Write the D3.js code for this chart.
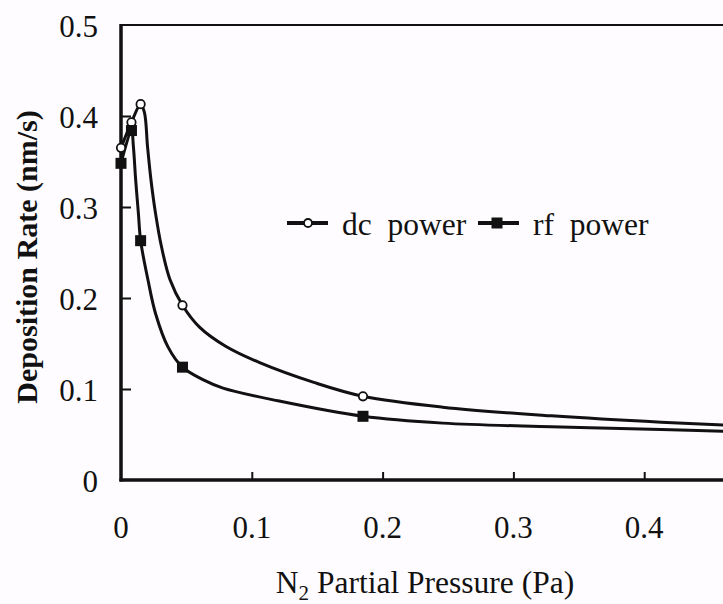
<!DOCTYPE html>
<html>
<head>
<meta charset="utf-8">
<script src="https://cdn.jsdelivr.net/npm/d3@7"></script>
<style>
  html, body { margin: 0; padding: 0; background: #fefcfe; }
  svg { display: block; }
  text { font-family: "Liberation Serif", "Times New Roman", serif; fill: #111; }
</style>
</head>
<body>
<svg id="chart" width="723" height="604"></svg>
<script>
// ---- data ----
const pressure = [0, 0.008, 0.015, 0.047, 0.185];          // N2 partial pressure (Pa)
const dcRate   = [0.365, 0.393, 0.413, 0.192, 0.092];      // dc power, nm/s
const rfRate   = [0.348, 0.384, 0.263, 0.124, 0.070];      // rf power, nm/s

// fitted curves as drawn in the figure
const dcCurveX = [0, 0.008, 0.015, 0.0179, 0.0203, 0.0229, 0.0264, 0.031, 0.0375, 0.047, 0.06, 0.08, 0.106, 0.148, 0.185, 0.246, 0.329, 0.413, 0.47];
const dcCurveY = [0.365, 0.393, 0.413, 0.404, 0.366, 0.33, 0.293, 0.256, 0.22, 0.192, 0.168, 0.147, 0.129, 0.107, 0.092, 0.080, 0.0705, 0.0635, 0.060];
const rfCurveX = [0, 0.008, 0.0095, 0.0112, 0.0133, 0.015, 0.0206, 0.0264, 0.036, 0.047, 0.063, 0.078, 0.12, 0.185, 0.246, 0.329, 0.413, 0.47];
const rfCurveY = [0.348, 0.384, 0.366, 0.33, 0.293, 0.263, 0.22, 0.183, 0.146, 0.124, 0.110, 0.101, 0.087, 0.070, 0.0625, 0.0585, 0.0555, 0.053];

const xTicks = [0, 0.1, 0.2, 0.3, 0.4];
const yTicks = [0, 0.1, 0.2, 0.3, 0.4, 0.5];
const xTickLabels = ["0", "0.1", "0.2", "0.3", "0.4"];
const yTickLabels = ["0", "0.1", "0.2", "0.3", "0.4", "0.5"];
const seriesNames = ["dc  power", "rf  power"];

// ---- layout ----
const svg = d3.select("#chart");
const x = d3.scaleLinear().domain([0, 0.5]).range([121, 775]);
const y = d3.scaleLinear().domain([0, 0.5]).range([480, 25]);

// frame: top border
svg.append("line").attr("x1", x(0)).attr("x2", 723).attr("y1", y(0.5)).attr("y2", y(0.5))
  .attr("stroke", "#111").attr("stroke-width", 2);

// y axis
const yAxis = d3.axisRight(y).tickValues(yTicks.slice(1, 5)).tickSize(10).tickFormat("");
const gy = svg.append("g").attr("transform", `translate(${x(0)},0)`).call(yAxis);
gy.select(".domain").remove();
gy.selectAll(".tick line").attr("stroke", "#111").attr("stroke-width", 2);
svg.append("line").attr("x1", x(0)).attr("x2", x(0)).attr("y1", y(0.5) - 1).attr("y2", y(0) + 1.5)
  .attr("stroke", "#111").attr("stroke-width", 3.5);

// x axis
const xAxis = d3.axisTop(x).tickValues(xTicks.slice(1)).tickSize(8).tickFormat("");
const gx = svg.append("g").attr("transform", `translate(0,${y(0)})`).call(xAxis);
gx.select(".domain").remove();
gx.selectAll(".tick line").attr("stroke", "#111").attr("stroke-width", 2);
svg.append("line").attr("x1", x(0) - 1.5).attr("x2", 723).attr("y1", y(0)).attr("y2", y(0))
  .attr("stroke", "#111").attr("stroke-width", 3.5);

// tick labels
svg.selectAll(".ylab").data(yTicks).enter().append("text")
  .attr("x", 98).attr("y", d => y(d) + 1).attr("text-anchor", "end")
  .attr("dominant-baseline", "central").attr("font-size", 31)
  .text((d, i) => yTickLabels[i]);
svg.selectAll(".xlab").data(xTicks).enter().append("text")
  .attr("x", d => x(d)).attr("y", 538).attr("text-anchor", "middle")
  .attr("font-size", 31)
  .text((d, i) => xTickLabels[i]);

// axis titles
const xt = svg.append("text").attr("x", 425).attr("y", 593).attr("text-anchor", "middle").attr("font-size", 31.5);
xt.append("tspan").text("N");
xt.append("tspan").attr("font-size", 21).attr("dy", 7).text("2");
xt.append("tspan").attr("dy", -7).text(" Partial Pressure (Pa)");

svg.append("text").attr("transform", "translate(37,257) rotate(-90)")
  .attr("text-anchor", "middle").attr("font-size", 30).attr("font-weight", "bold")
  .text("Deposition Rate (nm/s)");

// curves
const line = d3.line().x(d => x(d[0])).y(d => y(d[1])).curve(d3.curveCatmullRom.alpha(0.5));
svg.append("path").datum(dcCurveX.map((v, i) => [v, dcCurveY[i]]))
  .attr("d", line).attr("fill", "none").attr("stroke", "#111").attr("stroke-width", 3);
svg.append("path").datum(rfCurveX.map((v, i) => [v, rfCurveY[i]]))
  .attr("d", line).attr("fill", "none").attr("stroke", "#111").attr("stroke-width", 3);

// markers
svg.selectAll(".dc").data(pressure).enter().append("circle")
  .attr("cx", d => x(d)).attr("cy", (d, i) => y(dcRate[i])).attr("r", 4.2)
  .attr("fill", "#fff").attr("stroke", "#111").attr("stroke-width", 1.8);
svg.selectAll(".rf").data(pressure).enter().append("rect")
  .attr("x", d => x(d) - 5.5).attr("y", (d, i) => y(rfRate[i]) - 5.5)
  .attr("width", 11).attr("height", 11).attr("fill", "#111");

// legend
const leg = [
  { x1: 287, x2: 328, mx: 308, tx: 342, kind: "circle" },
  { x1: 478, x2: 519, mx: 497, tx: 533, kind: "square" }
];
const ly = 223;
leg.forEach((L, i) => {
  svg.append("line").attr("x1", L.x1).attr("x2", L.x2).attr("y1", ly).attr("y2", ly)
    .attr("stroke", "#111").attr("stroke-width", 4);
  if (L.kind === "circle") {
    svg.append("circle").attr("cx", L.mx).attr("cy", ly).attr("r", 4)
      .attr("fill", "#fff").attr("stroke", "#111").attr("stroke-width", 1.8);
  } else {
    svg.append("rect").attr("x", L.mx - 5.5).attr("y", ly - 5.5).attr("width", 11).attr("height", 11).attr("fill", "#111");
  }
  svg.append("text").attr("x", L.tx).attr("y", 235).attr("font-size", 31.5)
    .attr("xml:space", "preserve").style("white-space", "pre")
    .text(seriesNames[i]);
});
</script>
</body>
</html>
